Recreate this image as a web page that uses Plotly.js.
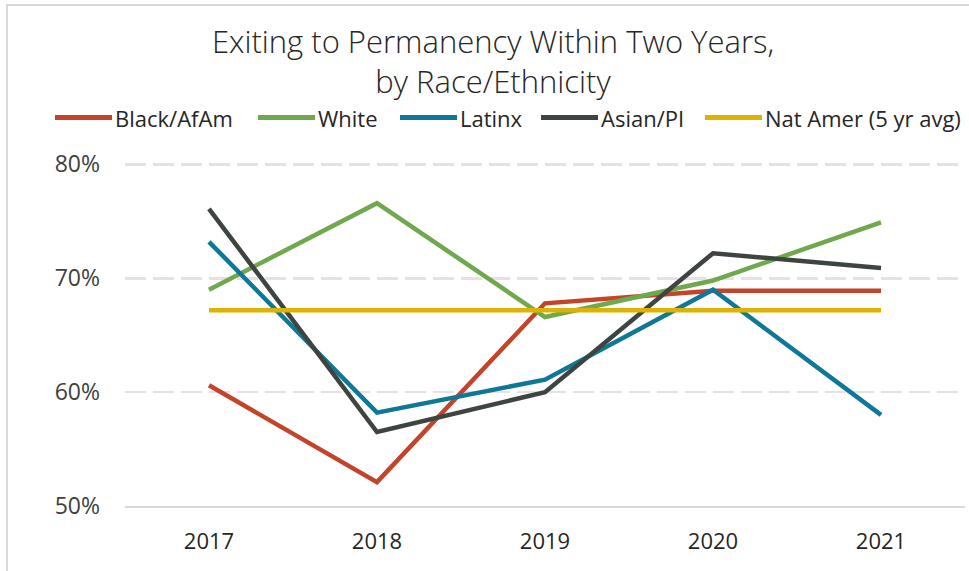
<!DOCTYPE html>
<html>
<head>
<meta charset="utf-8">
<script src="https://cdn.plot.ly/plotly-3.0.1.min.js"></script>
<style>
  html, body { margin: 0; padding: 0; background: #ffffff; }
  #wrap { position: relative; width: 969px; height: 571px; overflow: hidden; }
  #chart { position: absolute; left: 0; top: 0; width: 969px; height: 571px; }
  #frameTop { position: absolute; left: 6px; top: 4px; width: 963px; height: 2px; background: #d9d9d9; pointer-events: none; }
  #frameLeft { position: absolute; left: 6px; top: 4px; width: 2px; height: 567px; background: #d9d9d9; pointer-events: none; }
</style>
</head>
<body>
<div id="wrap">
  <div id="chart"></div>
  <div id="frameTop"></div>
  <div id="frameLeft"></div>
</div>
<script>
// ---- data ----
const years = ["2017", "2018", "2019", "2020", "2021"];
const blackAfAm = [60.6, 52.1, 67.8, 68.9, 68.9];
const white     = [69.0, 76.6, 66.6, 69.8, 74.9];
const latinx    = [73.2, 58.2, 61.1, 69.0, 58.0];
const asianPI   = [76.1, 56.5, 60.0, 72.2, 70.9];
const natAmer5yrAvg = [67.2, 67.2, 67.2, 67.2, 67.2];
const seriesNames = ["Black/AfAm", "White", "Latinx", "Asian/PI", "Nat Amer (5 yr avg)"];
const seriesColors = ["#c4432b", "#70a84e", "#0f7896", "#3e4541", "#dcb300"];
const yTickVals = [50, 60, 70, 80];
const yTickText = ["50%", "60%", "70%", "80%"];

// legend key positions (pixels in the 969x571 picture)
const legendKeyLeft = [55, 258, 400, 541, 705];
const legendKeyLen = 57;
const legendRowY = 117;

const seriesValues = [blackAfAm, white, latinx, asianPI, natAmer5yrAvg];
const traces = seriesValues.map((vals, i) => ({
  type: "scatter",
  mode: "lines",
  x: years,
  y: vals,
  name: seriesNames[i],
  line: { color: seriesColors[i], width: 4.5 },
  hoverinfo: "skip",
  showlegend: false
}));

const fontMain = "Open Sans, Lato, DejaVu Sans, sans-serif";

// plot area in pixels (top chosen so that 80% sits at y=164 with range top 80.3)
const plotL = 125, plotR = 965, plotT = 160.6, plotB = 506.5;
const px2x = p => (p - plotL) / (plotR - plotL);
const px2y = p => (plotB - p) / (plotB - plotT);

const shapes = seriesNames.map((n, i) => ({
  type: "line",
  xref: "paper", yref: "paper",
  x0: px2x(legendKeyLeft[i]), x1: px2x(legendKeyLeft[i] + legendKeyLen),
  y0: px2y(legendRowY), y1: px2y(legendRowY),
  line: { color: seriesColors[i], width: 5 }
}));

const annotations = seriesNames.map((n, i) => ({
  text: n,
  xref: "paper", yref: "paper",
  x: px2x(legendKeyLeft[i] + legendKeyLen + 1),
  y: px2y(legendRowY),
  xanchor: "left", yanchor: "middle",
  showarrow: false,
  font: { family: fontMain, size: 22, color: "#262626" }
}));

const layout = {
  width: 969,
  height: 571,
  paper_bgcolor: "#ffffff",
  plot_bgcolor: "#ffffff",
  margin: { l: plotL, r: 969 - plotR, t: plotT, b: 571 - plotB, pad: 0 },
  title: {
    text: "Exiting to Permanency Within Two Years,<br>by Race/Ethnicity",
    font: { family: fontMain, size: 31, color: "#262626", weight: 300 },
    x: 493 / 969,
    xanchor: "center",
    xref: "container",
    y: 1 - 53 / 571,
    yanchor: "top",
    yref: "container"
  },
  showlegend: false,
  shapes: shapes,
  annotations: annotations,
  xaxis: {
    type: "category",
    range: [-0.5, 4.5],
    showgrid: false,
    zeroline: false,
    showline: true,
    linecolor: "#d9d9d9",
    linewidth: 2,
    ticks: "",
    tickfont: { family: fontMain, size: 22, color: "#262626" },
    ticklabelstandoff: 15,
    fixedrange: true
  },
  yaxis: {
    range: [50, 80.3],
    tickvals: yTickVals,
    ticktext: yTickText,
    showgrid: true,
    gridcolor: "#e8e1e3",
    gridwidth: 2.5,
    griddash: "21px,7px",
    zeroline: false,
    showline: false,
    ticks: "",
    tickfont: { family: fontMain, size: 23, color: "#404040" },
    ticklabelstandoff: 24,
    fixedrange: true
  }
};

Plotly.newPlot("chart", traces, layout, { displayModeBar: false, staticPlot: true });
</script>
</body>
</html>
